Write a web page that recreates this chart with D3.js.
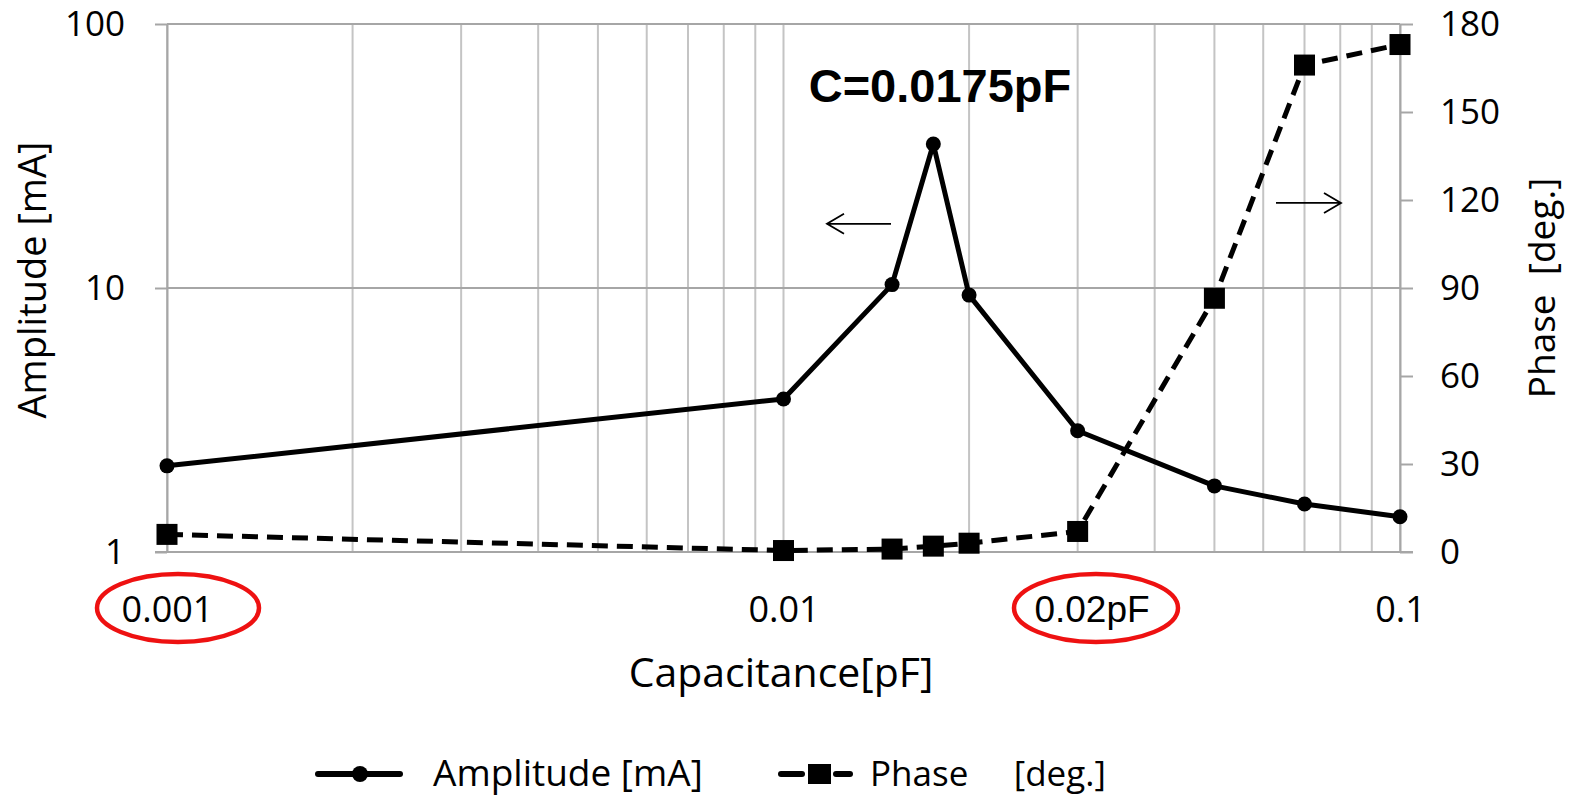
<!DOCTYPE html>
<html>
<head>
<meta charset="utf-8">
<script src="https://cdn.jsdelivr.net/npm/d3@7"></script>
<style>
  body { margin: 0; background: #fff; }
  svg { display: block; }
</style>
</head>
<body>
<svg width="1575" height="800"></svg>
<script>
// capacitance [pF]
var capacitance = [0.001, 0.01, 0.015, 0.0175, 0.02, 0.03, 0.05, 0.07, 0.1];
// amplitude [mA] (left, log)
var amplitude = [2.12, 3.8, 10.3, 35.1, 9.4, 2.88, 1.78, 1.52, 1.36];
// phase [deg.] (right)
var phase = [6, 0.5, 1, 2, 3, 7, 86.5, 166, 173];

var xTicks = [0.001, 0.01, 0.1];
var yTicks = [1, 10, 100];
var phaseTicks = [0, 30, 60, 90, 120, 150, 180];

var svg = d3.select("svg");
var plotL = 167, plotR = 1400, plotT = 24, plotB = 552;

var x = d3.scaleLog().domain([0.001, 0.1]).range([plotL, plotR]);
var y = d3.scaleLog().domain([1, 100]).range([plotB, plotT]);
var yR = d3.scaleLinear().domain([0, 180]).range([plotB, plotT]);

var font = "'Open Sans', Lato, sans-serif";
var arial = "'Liberation Sans', Arial, sans-serif";
var axisGrey = "#a6a6a6";

// vertical grid lines at every log step
var minor = [];
[0.001, 0.01].forEach(function(dec) {
    for (var k = 1; k < 10; k++) minor.push(dec * k);
});
minor.push(0.1);

svg.append("g").selectAll("line").data(minor).enter().append("line")
    .attr("x1", function(d) { return x(d); })
    .attr("x2", function(d) { return x(d); })
    .attr("y1", plotT).attr("y2", plotB)
    .attr("stroke", "#c4c4c4").attr("stroke-width", 2);

svg.append("g").selectAll("line").data(yTicks).enter().append("line")
    .attr("x1", plotL).attr("x2", plotR)
    .attr("y1", function(d) { return y(d); })
    .attr("y2", function(d) { return y(d); })
    .attr("stroke", axisGrey).attr("stroke-width", 2);

// left axis
var gl = svg.append("g").attr("transform", "translate(" + plotL + ",0)")
    .call(d3.axisLeft(y).tickValues(yTicks).tickFormat(d3.format("d"))
        .tickSize(12).tickSizeOuter(0).tickPadding(30));
gl.select(".domain").attr("stroke", axisGrey).attr("stroke-width", 2);
gl.selectAll(".tick line").attr("stroke", axisGrey).attr("stroke-width", 2);
gl.selectAll("text").attr("font-family", font).attr("font-size", 35).attr("fill", "#000");

// right axis
var gr = svg.append("g").attr("transform", "translate(" + plotR + ",0)")
    .call(d3.axisRight(yR).tickValues(phaseTicks)
        .tickSize(13).tickSizeOuter(0).tickPadding(27));
gr.select(".domain").attr("stroke", axisGrey).attr("stroke-width", 2);
gr.selectAll(".tick line").attr("stroke", axisGrey).attr("stroke-width", 2);
gr.selectAll("text").attr("font-family", font).attr("font-size", 35).attr("fill", "#000");

// bottom axis
var gb = svg.append("g").attr("transform", "translate(0," + plotB + ")")
    .call(d3.axisBottom(x).tickValues(xTicks).tickFormat(function(d) { return String(d); })
        .tickSize(0).tickPadding(44));
gb.select(".domain").attr("stroke", axisGrey).attr("stroke-width", 2)
    .attr("d", "M" + (plotL - 12) + ",0H" + (plotR + 13));
gb.selectAll("text").attr("font-family", font)
    .attr("font-size", 36).attr("fill", "#000");

// axis titles
svg.append("text")
    .attr("transform", "translate(46,280) rotate(-90)")
    .attr("text-anchor", "middle")
    .attr("font-family", font).attr("font-size", 38)
    .text("Amplitude [mA]");

svg.append("text")
    .attr("transform", "translate(1555,288) rotate(-90)")
    .attr("text-anchor", "middle")
    .attr("font-family", font).attr("font-size", 37)
    .attr("xml:space", "preserve")
    .text("Phase  [deg.]");

svg.append("text")
    .attr("x", 781).attr("y", 687)
    .attr("text-anchor", "middle")
    .attr("font-family", font).attr("font-size", 41)
    .text("Capacitance[pF]");

// series
var ampLine = d3.line()
    .x(function(d, i) { return x(capacitance[i]); })
    .y(function(d) { return y(d); });
var phaseLine = d3.line()
    .x(function(d, i) { return x(capacitance[i]); })
    .y(function(d) { return yR(d); });

svg.append("path").attr("d", phaseLine(phase))
    .attr("fill", "none").attr("stroke", "#000").attr("stroke-width", 5)
    .attr("stroke-dasharray", "16,9");
svg.append("g").selectAll("rect").data(phase).enter().append("rect")
    .attr("x", function(d, i) { return x(capacitance[i]) - 10.5; })
    .attr("y", function(d) { return yR(d) - 10.5; })
    .attr("width", 21).attr("height", 21).attr("fill", "#000");

svg.append("path").attr("d", ampLine(amplitude))
    .attr("fill", "none").attr("stroke", "#000").attr("stroke-width", 5)
    .attr("stroke-linejoin", "round");
svg.append("g").selectAll("circle").data(amplitude).enter().append("circle")
    .attr("cx", function(d, i) { return x(capacitance[i]); })
    .attr("cy", function(d) { return y(d); })
    .attr("r", 7.5).attr("fill", "#000");

// annotations
svg.append("text")
    .attr("x", 940).attr("y", 102)
    .attr("text-anchor", "middle")
    .attr("font-family", arial)
    .attr("font-weight", "bold").attr("font-size", 47)
    .text("C=0.0175pF");

function arrow(x1, x2, yy) {
    var dir = x2 > x1 ? -1 : 1;
    svg.append("path")
        .attr("d", "M" + x1 + "," + yy + "H" + x2 +
            "M" + (x2 + dir * 17) + "," + (yy - 10) + "L" + x2 + "," + yy +
            "L" + (x2 + dir * 17) + "," + (yy + 10))
        .attr("fill", "none").attr("stroke", "#000").attr("stroke-width", 1.8);
}
arrow(891, 827, y(17.5));
arrow(1276, 1341, yR(119));

svg.append("text")
    .attr("x", 1092).attr("y", 622)
    .attr("text-anchor", "middle")
    .attr("font-family", arial)
    .attr("font-size", 37)
    .text("0.02pF");

svg.append("ellipse").attr("cx", 178).attr("cy", 608).attr("rx", 81).attr("ry", 34)
    .attr("fill", "none").attr("stroke", "#ee1111").attr("stroke-width", 4.5);
svg.append("ellipse").attr("cx", 1096).attr("cy", 608).attr("rx", 82).attr("ry", 34)
    .attr("fill", "none").attr("stroke", "#ee1111").attr("stroke-width", 4.5);

// legend
var lg = svg.append("g").attr("transform", "translate(0,774)");
lg.append("line").attr("x1", 318).attr("x2", 400).attr("y1", 0).attr("y2", 0)
    .attr("stroke", "#000").attr("stroke-width", 6).attr("stroke-linecap", "round");
lg.append("circle").attr("cx", 360).attr("cy", 0).attr("r", 8).attr("fill", "#000");
lg.append("text").attr("x", 433).attr("y", 12)
    .attr("font-family", font).attr("font-size", 37)
    .text("Amplitude [mA]");

lg.append("line").attr("x1", 781).attr("x2", 802).attr("y1", 0).attr("y2", 0)
    .attr("stroke", "#000").attr("stroke-width", 6).attr("stroke-linecap", "round");
lg.append("line").attr("x1", 836).attr("x2", 850).attr("y1", 0).attr("y2", 0)
    .attr("stroke", "#000").attr("stroke-width", 6).attr("stroke-linecap", "round");
lg.append("rect").attr("x", 808).attr("y", -10).attr("width", 23).attr("height", 20).attr("fill", "#000");
lg.append("text").attr("x", 870).attr("y", 12)
    .attr("font-family", font).attr("font-size", 35)
    .attr("xml:space", "preserve")
    .text("Phase     [deg.]");
</script>
</body>
</html>
